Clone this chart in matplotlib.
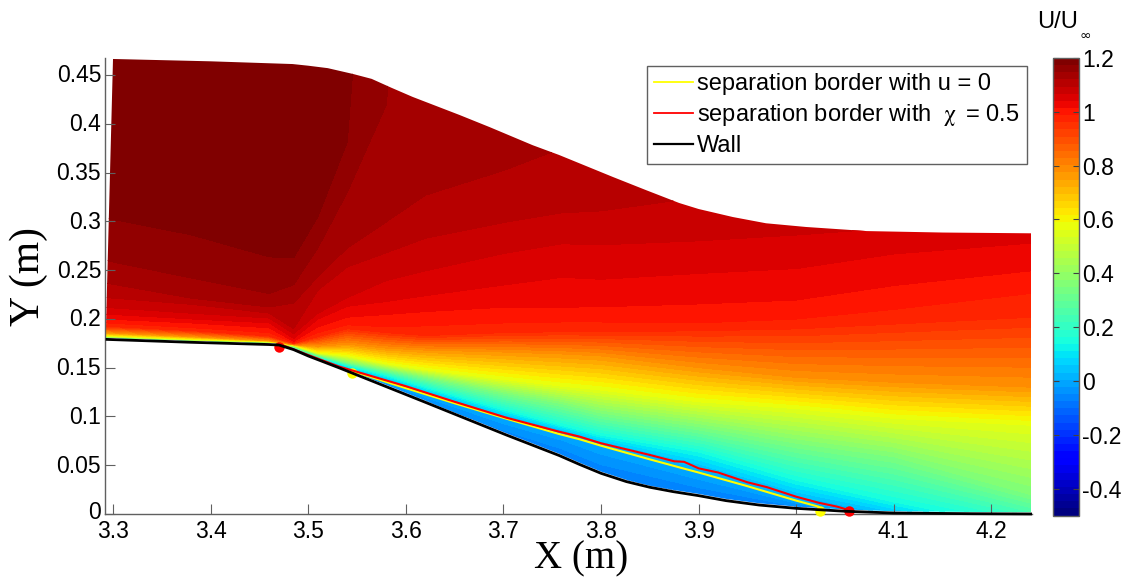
import numpy as np
import matplotlib
matplotlib.use("Agg")
import matplotlib.pyplot as plt
from matplotlib.patches import Polygon
from matplotlib.lines import Line2D
from matplotlib.transforms import ScaledTranslation

plt.rcParams['font.family'] = ['Liberation Sans', 'DejaVu Sans']
plt.rcParams['mathtext.fontset'] = 'stix'

# stations along the channel
stations = [3.292, 3.38, 3.46, 3.485, 3.51, 3.54, 3.58, 3.62, 3.70, 3.76, 3.80, 3.90, 4.00, 4.10, 4.24]
# velocity ratio of each iso-line, and the height of that iso-line at each station
u_levels = [-0.08, 0.0, 0.14, 0.35, 0.5625, 0.775, 0.962, 0.988, 1.015, 1.041, 1.068, 1.094, 1.12, 1.147, 1.173, 1.2]
h_m008 = [.176, .173, .170, .166, .155, .144, .128, .111, .078, .056, .038, .017, .004, -.01, -.05]
h_0000 = [.179, .176, .1737, .169, .159, .1475, .136, .123, .098, .083, .070, .0425, .0137, -.005, -.03]
h_0140 = [.1795, .1765, .1745, .170, .1605, .152, .142, .130, .107, .091, .081, .0639, .035, .0126, -.015]
h_0350 = [.181, .1775, .1755, .1715, .163, .1555, .148, .140, .124, .113, .1035, .0895, .0726, .0587, .02]
h_0562 = [.1825, .179, .1765, .173, .165, .162, .154, .148, .138, .131, .127, .115, .108, .098, .091]
h_0775 = [.186, .182, .1777, .1735, .172, .174, .170, .168, .166, .164, .162, .150, .14, .135, .13]
h_0962 = [.1925, .188, .1825, .175, .182, .19, .186, .183, .186, .187, .187, .188, .19, .195, .202]
h_0988 = [.196, .191, .186, .176, .186, .194, .192, .193, .196, .197, .197, .196, .2, .21, .2265]
h_1015 = [.2, .196, .191, .177, .192, .202, .205, .208, .2125, .2125, .213, .216, .22, .235, .25]
h_1041 = [.205, .2, .196, .180, .2, .213, .218, .224, .235, .243, .241, .247, .252, .267, .278]
h_1068 = [.212, .206, .201, .185, .206, .222, .24, .250, .268, .278, .277, .281, .287, .294, .31]
h_1094 = [.222, .215, .206, .19, .2296, .2535, .268, .283, .299, .309, .311, .325, .40, .45, .5]
h_1120 = [.2366, .221, .212, .216, .243, .272, .298, .32, .345, .368, .8, .85, .9, .95, 1.0]
h_1147 = [.26, .242, .226, .235, .273, .33, .42, .9, .95, .97, .99, 1.0, 1.02, 1.04, 1.06]
h_1173 = [.2986, .281, .258, .257, .30, .376, .9, .95, 1.0, 1.02, 1.04, 1.06, 1.08, 1.1, 1.12]
h_1200 = [.6, .6, .6, .6, .6, .7, .95, 1.0, 1.05, 1.07, 1.09, 1.11, 1.13, 1.15, 1.17]

wall_x = [3.2925, 3.38, 3.46, 3.47, 3.485, 3.5, 3.532, 3.58, 3.6, 3.62, 3.703, 3.757, 3.778, 3.80, 3.826, 3.85, 3.874, 3.90, 3.928, 3.962, 4.0, 4.05, 4.1, 4.18, 4.2415]
wall_y = [.179, .176, .1737, .1732, .1685, .162, .1497, .1305, .1225, .1145, .081, .0600, .0508, .0417, .0332, .0274, .0229, .0188, .0137, .0092, .0058, .0028, .001, .0003, 0]
top_x = [3.30, 3.40, 3.484, 3.50, 3.52, 3.546, 3.565, 3.585, 3.607, 3.655, 3.686, 3.73, 3.757, 3.812, 3.846, 3.88, 3.90, 3.935, 3.969, 4.01, 4.072, 4.15, 4.242]
top_y = [.4664, .4640, .4612, .4595, .4570, .4510, .4460, .4370, .4275, .4090, .3965, .3780, .3680, .3455, .3320, .3188, .3126, .3044, .2980, .2942, .2900, .2885, .2877]

yellow_x = [3.545, 3.6, 3.65, 3.703, 3.757, 3.778, 3.80, 3.85, 3.885, 3.90, 3.95, 4.0, 4.023, 4.027]
yellow_y = [.1465, .129, .1135, .0977, .082, .0766, .070, .056, .0465, .0425, .0285, .0137, .0075, .004]
red_x = [3.47, 3.50, 3.532, 3.60, 3.65, 3.703, 3.757, 3.778, 3.80, 3.85, 3.875, 3.885, 3.90, 3.92, 3.95, 3.97, 4.0, 4.023, 4.042, 4.054]
red_y = [.1745, .163, .151, .131, .115, .0987, .0844, .0793, .0725, .0605, .054, .0535, .0468, .0425, .0325, .0275, .0177, .0115, .0075, .004]
sep_red_x = [3.470, 4.054]
sep_red_y = [.1715, .003]
sep_yellow_x = [3.545, 4.024]
sep_yellow_y = [.1445, .0034]

x_ticks = [3.3, 3.4, 3.5, 3.6, 3.7, 3.8, 3.9, 4.0, 4.1, 4.2]
x_tick_labels = ['3.3', '3.4', '3.5', '3.6', '3.7', '3.8', '3.9', '4', '4.1', '4.2']
y_ticks = [0, .05, .1, .15, .2, .25, .3, .35, .4, .45]
y_tick_labels = ['0', '0.05', '0.1', '0.15', '0.2', '0.25', '0.3', '0.35', '0.4', '0.45']
cbar_ticks = [-.4, -.2, 0, .2, .4, .6, .8, 1, 1.2]
cbar_tick_labels = ['-0.4', '-0.2', '0', '0.2', '0.4', '0.6', '0.8', '1', '1.2']

W, H = 1127, 577
fig = plt.figure(figsize=(W / 100, H / 100), dpi=100)
ax = fig.add_axes([105.3 / W, (H - 514) / H, (1031.5 - 105.3) / W, (514 - 58) / H])
ax.set_xlim(3.2921, 4.241)
ax.set_ylim(0, 0.4674)

heights = np.array([h_m008, h_0000, h_0140, h_0350, h_0562, h_0775, h_0962, h_0988,
                    h_1015, h_1041, h_1068, h_1094, h_1120, h_1147, h_1173, h_1200])
X = np.tile(np.array(stations), (len(u_levels), 1))
U = np.tile(np.array(u_levels)[:, None], (1, len(stations)))

cmap = plt.get_cmap('jet', 64)
levels = np.linspace(-0.5, 1.2, 65)
cs = ax.contourf(X, heights, U, levels=levels, cmap=cmap, vmin=-0.5, vmax=1.2, zorder=1)

gap = 0.0018
outline = list(zip(top_x, top_y)) + list(zip(wall_x[::-1], (np.array(wall_y[::-1]) + gap).tolist()))
clip = Polygon(outline, closed=True, transform=ax.transData)
cs.set_clip_path(clip)

ax.plot(sep_yellow_x, sep_yellow_y, 'o', color='#ffff00', ms=7.5, mew=0, clip_on=False, zorder=3)
ax.plot(sep_red_x, sep_red_y, 'o', color='#ff0000', ms=7.5, mew=0, clip_on=False, zorder=3)
ax.plot(yellow_x, yellow_y, color='#ffff00', lw=1.5, zorder=4)
ax.plot(red_x, red_y, color='#ff0000', lw=1.5, zorder=5)
ax.plot(wall_x, wall_y, color='black', lw=2.0, zorder=6, clip_on=False, solid_capstyle='butt')

for s in ['top', 'right']:
    ax.spines[s].set_visible(False)
for s in ['left', 'bottom']:
    ax.spines[s].set_color('#606060')
    ax.spines[s].set_linewidth(1.0)
ax.set_xticks(x_ticks, x_tick_labels)
ax.set_yticks(y_ticks, y_tick_labels)
ax.tick_params(axis='both', direction='in', length=7, width=0.8, color='#606060', labelsize=16.5, labelcolor='black')
ax.tick_params(axis='x', pad=4)
ax.tick_params(axis='y', pad=3)
for i, lab in enumerate(ax.get_yticklabels()):
    dy = 4 if i == 0 else 1.5
    lab.set_transform(lab.get_transform() + ScaledTranslation(0, dy / 100, fig.dpi_scale_trans))

fig.text(581 / W, 1 - 568.5 / H, 'X (m)', family='Liberation Serif', fontsize=28, ha='center', va='baseline')
fig.text(29 / W, 1 - 277 / H, 'Y (m)', family='Liberation Serif', fontsize=30, rotation=90, ha='center', va='center')

handles = [Line2D([], [], color='#ffff00', lw=1.3),
           Line2D([], [], color='#ff0000', lw=1.3),
           Line2D([], [], color='black', lw=1.6)]
labels = ['separation border with u = 0', 'separation border with  $\\mathrm{\\chi}\\,$ = 0.5', 'Wall']
leg = fig.legend(handles, labels, loc='upper left', bbox_to_anchor=(646.7 / W, 1 - 65.7 / H),
                 borderaxespad=0, fontsize=17, frameon=True, fancybox=False, framealpha=1,
                 edgecolor='#606060', handlelength=1.64, handletextpad=0.2, labelspacing=0.3,
                 borderpad=0.3)
leg.get_frame().set_linewidth(1.0)

cax = fig.add_axes([1053 / W, (H - 515.5) / H, 26 / W, (515.5 - 58) / H])
cb = fig.colorbar(cs, cax=cax, ticks=cbar_ticks)
cb.ax.set_yticklabels(cbar_tick_labels)
cb.ax.tick_params(direction='in', length=4.5, width=0.8, color='#404040', left=True, right=True, labelsize=16.5, pad=2)
cb.outline.set_edgecolor('#606060')
cb.outline.set_linewidth(1.0)
fig.text(1037 / W, 1 - 28 / H, 'U/U', fontsize=17, ha='left', va='baseline')
fig.text(1085.5 / W, 1 - 36 / H, '\u221e', family='DejaVu Sans', fontsize=10, ha='center', va='center')

fig.savefig('out.png', dpi=100, facecolor='white')
